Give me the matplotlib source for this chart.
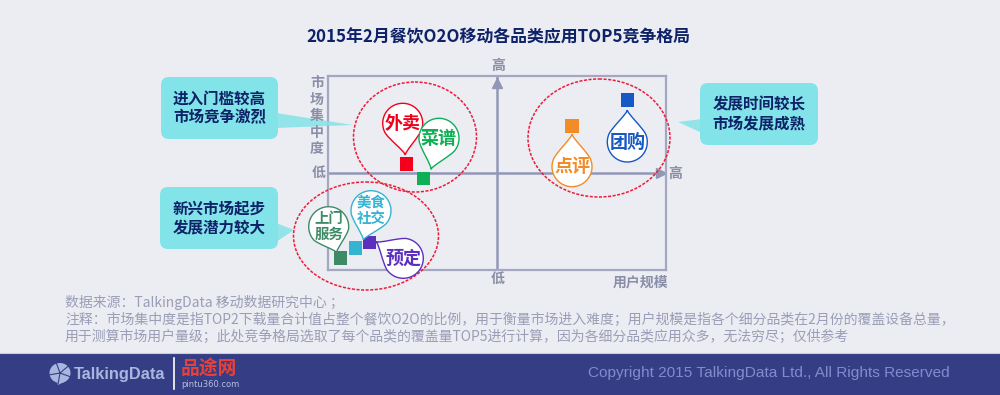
"""2015-02 catering O2O quadrant chart."""

import numpy as np
import matplotlib
matplotlib.use('Agg')
import matplotlib.pyplot as plt
from matplotlib.patches import Ellipse, FancyBboxPatch, PathPatch, Polygon, Rectangle
from matplotlib.path import Path

plt.rcParams['font.family'] = ['Noto Sans CJK SC', 'DejaVu Sans']

# chart values, 0-100 on both axes
categories = ['外卖', '菜谱', '美食\n社交', '上门\n服务', '预定', '点评', '团购']
user_scale = [23.2, 28.3, 8.1, 3.8, 12.3, 72.2, 88.5]
concentration = [54.6, 47.2, 11.3, 6.2, 14.0, 74.2, 87.6]
colors = ['#F2001C', '#0FAF55', '#35B4D2', '#3F8A66', '#5B30BE', '#F28C28', '#1658C4']

title = '2015年2月餐饮O2O移动各品类应用TOP5竞争格局'
notes = ['数据来源：TalkingData 移动数据研究中心 ；',
         '注释：市场集中度是指TOP2下载量合计值占整个餐饮O2O的比例，用于衡量市场进入难度；用户规模是指各个细分品类在2月份的覆盖设备总量，',
         '用于测算市场用户量级；此处竞争格局选取了每个品类的覆盖量TOP5进行计算，因为各细分品类应用众多，无法穷尽；仅供参考']

# callouts: box (left, top, right, bottom), tail (y0, y1, tip x, tip y), text
callouts = [((161, 77, 278, 139), (113, 128, 353, 125), '进入门槛较高\n市场竞争激烈'),
            ((160, 187, 278, 249), (223, 242, 294, 230), '新兴市场起步\n发展潜力较大'),
            ((700, 83, 818, 145), (119, 133, 678, 122), '发展时间较长\n市场发展成熟')]
# dashed rings: centre x, centre y, width, height
rings = [(415, 137, 123, 110), (366, 236, 145, 108), (599, 138, 142, 118)]
# drops: circle centre, tip, same order as categories
drop_centres = [(402.7, 123.3), (439, 138.3), (371, 210.7), (328.7, 226.7),
                (403.3, 258.3), (572, 166.7), (627.3, 142)]
drop_tips = [(405.3, 155), (431, 169.3), (363.3, 240), (336.7, 252.7),
             (376, 241.7), (572, 134), (627.3, 110)]

BG = '#ECECF3'
AXIS = '#9297B5'
GREY = '#8A8FA8'
NAVY = '#0E2268'
CYAN = '#82E3E8'
FOOT = '#353E85'


def drop_path(centre, tip, r=20):
    cx, cy = centre
    tx, ty = tip
    th = np.arctan2(ty - cy, tx - cx)
    spread = np.radians(68)
    arc = np.linspace(th + spread, th + 2 * np.pi - spread, 40)
    px = cx + r * np.cos(arc)
    py = cy + r * np.sin(arc)
    k = 0.22 * np.hypot(tx - cx, ty - cy)
    inner = (tx - 0.5 * k * np.cos(th), ty - 0.5 * k * np.sin(th))
    verts = [(tx, ty), inner,
             (px[0] + k * np.sin(arc[0]), py[0] - k * np.cos(arc[0])), (px[0], py[0])]
    codes = [Path.MOVETO] + [Path.CURVE4] * 3
    verts += list(zip(px[1:], py[1:]))
    codes += [Path.LINETO] * (len(arc) - 1)
    verts += [(px[-1] - k * np.sin(arc[-1]), py[-1] + k * np.cos(arc[-1])), inner, (tx, ty)]
    codes += [Path.CURVE4] * 3
    return Path(verts, codes)


fig = plt.figure(figsize=(10, 3.95), dpi=100, facecolor=BG)

# chart
ax = fig.add_axes([0.328, 125 / 395, 0.338, 194 / 395], zorder=1)
ax.set_facecolor('none')
ax.set_xlim(0, 100)
ax.set_ylim(0, 100)
ax.set_xticks([])
ax.set_yticks([])
for s in ax.spines.values():
    s.set_color('#A3A7C0')
    s.set_linewidth(1.6)
ax.axhline(50, color=AXIS, lw=1.8)
ax.axvline(50, color=AXIS, lw=1.8)
ax.plot([98.6], [50], marker='>', ms=7, color=AXIS, clip_on=False)
ax.plot([50], [96.5], marker='^', ms=7, color=AXIS, clip_on=False)
ax.scatter(user_scale, concentration, marker='s', s=90, c=colors, linewidths=0, zorder=5, clip_on=False)

# everything else in pixel coordinates
ov = fig.add_axes([0, 0, 1, 1], zorder=2)
ov.set_xlim(0, 1000)
ov.set_ylim(395, 0)
ov.axis('off')

ov.add_patch(Rectangle((0, 353), 1000, 42, fc=FOOT, ec='none'))
ov.plot([0, 1000], [353, 353], color='#C9CBDB', lw=0.8)

ov.text(498, 37, title, ha='center', va='center', fontsize=12.2, fontweight='bold', color=NAVY)

for (l, t, r, b), (y0, y1, tipx, tipy), txt in callouts:
    ov.add_patch(FancyBboxPatch((l + 8, t + 8), r - l - 16, b - t - 16, boxstyle='round,pad=8,rounding_size=8',
                                fc=CYAN, ec='none', mutation_aspect=1))
    base = r - 2 if tipx > r else l + 2
    ov.add_patch(Polygon([(base, y0), (tipx, tipy), (base, y1)], fc=CYAN, ec='none', alpha=0.85))
    ov.text((l + r) / 2, (t + b) / 2, txt, ha='center', va='center', fontsize=11.2, fontweight='bold',
            color=NAVY, linespacing=1.25)

for cx, cy, w, h in rings:
    ov.add_patch(Ellipse((cx, cy), w, h, fc='none', ec='#EE1C3A', lw=1.1, ls=(0, (2, 1))))

for name, col, c, tip in zip(categories, colors, drop_centres, drop_tips):
    ov.add_patch(PathPatch(drop_path(c, tip), fc='white', ec=col, lw=1.0))
    two = '\n' in name
    ov.text(c[0], c[1], name, ha='center', va='center', color=col, fontweight='bold',
            fontsize=10.4 if two else 13, linespacing=1.2)

# axis words
for i, ch in enumerate('市场集中度'):
    ov.text(317, 83 + i * 16.6, ch, ha='center', va='center', fontsize=10, fontweight='bold', color=GREY)
for x, y, s in [(319, 173, '低'), (498, 66, '高'), (675, 174, '高'), (498, 279, '低')]:
    ov.text(x, y, s, ha='center', va='center', fontsize=10, fontweight='bold', color=GREY)
ov.text(640.5, 282, '用户规模', ha='center', va='center', fontsize=10, fontweight='bold', color=GREY)

for y, line in zip([303, 320, 337], notes):
    ov.text(65, y, line, ha='left', va='center', fontsize=10, color='#9A9EB6')

# footer logo
LOGO = '#A9B7E0'
ov.add_patch(Ellipse((60, 373), 21, 20, fc=LOGO, ec='none'))
ov.add_patch(Polygon([(56, 380), (64, 382), (58, 385)], fc=LOGO, ec='none'))
for a in [20, 100, 170, 250, 320]:
    ov.plot([60, 60 + 11 * np.cos(np.radians(a))], [373, 373 + 11 * np.sin(np.radians(a))],
            color=FOOT, lw=0.8)
ov.text(74, 374, 'TalkingData', ha='left', va='center', color=LOGO, fontsize=11.8, fontweight='bold',
        family=['Liberation Sans'])
ov.plot([173.5, 173.5], [358, 389], color='white', lw=1.2)
ov.text(181, 368, '品途网', ha='left', va='center', color='#E8413A', fontsize=13.5, fontweight='bold',
        family=['Noto Sans CJK SC'])
ov.text(181, 384.5, 'pintu360.com', ha='left', va='center', color='#B8BEDC', fontsize=6,
        family=['DejaVu Sans'])
ov.text(950, 373, 'Copyright 2015 TalkingData Ltd., All Rights Reserved', ha='right', va='center',
        color='#7F8DCB', fontsize=11.1, family=['Liberation Sans'])

fig.savefig('out.png', dpi=100, facecolor=BG)
